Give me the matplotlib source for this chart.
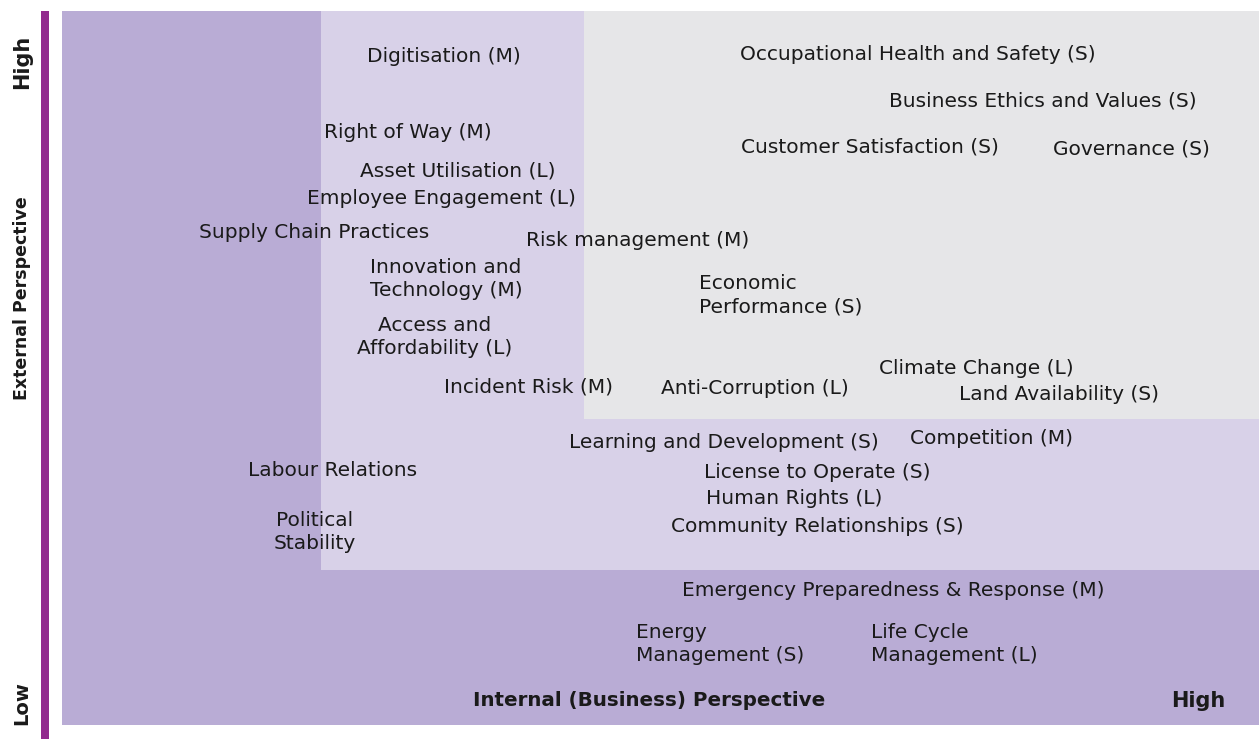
"""Materiality matrix: internal vs external perspective."""

import matplotlib.pyplot as plt
from matplotlib.patches import Rectangle

# panel coordinates (x: internal perspective, y: external perspective)
PANEL_W = 1197
PANEL_H = 714

# zone thresholds
mid_x = 259
mid_y = 155
top_x = 522
top_y = 306

labels = [
    "Digitisation (M)",
    "Occupational Health and Safety (S)",
    "Business Ethics and Values (S)",
    "Right of Way (M)",
    "Customer Satisfaction (S)",
    "Governance (S)",
    "Asset Utilisation (L)",
    "Employee Engagement (L)",
    "Supply Chain Practices",
    "Risk management (M)",
    "Innovation and\nTechnology (M)",
    "Economic\nPerformance (S)",
    "Access and\nAffordability (L)",
    "Climate Change (L)",
    "Incident Risk (M)",
    "Anti-Corruption (L)",
    "Land Availability (S)",
    "Learning and Development (S)",
    "Competition (M)",
    "Labour Relations",
    "License to Operate (S)",
    "Human Rights (L)",
    "Political\nStability",
    "Community Relationships (S)",
    "Emergency Preparedness & Response (M)",
    "Energy\nManagement (S)",
    "Life Cycle\nManagement (L)",
]
# label anchor: centre for most labels, left edge for left-aligned ones
internal = [382, 856, 981, 346, 808, 1069, 396, 379, 252, 576, 384, 637, 373,
            914, 467, 693, 997, 662, 930, 271, 755, 732, 253, 755, 831, 574, 809]
external = [668, 671, 624, 592, 578, 576, 554, 526, 492, 485, 446, 430, 388,
            357, 338, 336, 330, 283, 286, 254, 253, 226, 193, 199, 135, 81, 81]
align = ["center"] * len(labels)
align[11] = "left"
align[25] = "left"
align[26] = "left"

DARK = "#b9acd5"
MID = "#d8d1e8"
GREY = "#e6e6e8"
TEXT = "#1a1a1a"

fig = plt.figure(figsize=(12.59, 7.39), dpi=100)
ax = fig.add_axes([62 / 1259, 14 / 739, PANEL_W / 1259, PANEL_H / 739])
ax.set_xlim(0, PANEL_W)
ax.set_ylim(0, PANEL_H)
ax.axis("off")

ax.add_patch(Rectangle((0, 0), PANEL_W, PANEL_H, color=DARK, lw=0, zorder=0))
ax.add_patch(Rectangle((mid_x, mid_y), PANEL_W - mid_x, PANEL_H - mid_y, color=MID, lw=0, zorder=1))
ax.add_patch(Rectangle((top_x, top_y), PANEL_W - top_x, PANEL_H - top_y, color=GREY, lw=0, zorder=2))

for text, x, y, ha in zip(labels, internal, external, align):
    ax.text(x, y, text, ha=ha, va="center", multialignment=ha,
            fontsize=14.5, color=TEXT, linespacing=1.3, zorder=5)

# axis titles inside the panel
ax.text(587, 24, "Internal (Business) Perspective", ha="center", va="center",
        fontsize=14.3, fontweight="semibold", color=TEXT, zorder=5)
ax.text(1136, 24, "High", ha="center", va="center",
        fontsize=15, fontweight="semibold", color=TEXT, zorder=5)

# vertical axis bar and labels
fig.add_artist(Rectangle((41 / 1259, 0), 8 / 1259, 728 / 739,
                         transform=fig.transFigure, color="#922a8e", lw=0))
fig.text(22 / 1259, 1 - 62 / 739, "High", rotation=90, ha="center", va="center",
         fontsize=15, fontweight="semibold", color=TEXT)
fig.text(22 / 1259, 1 - 298 / 739, "External Perspective", rotation=90,
         ha="center", va="center", fontsize=12.5, fontweight="semibold", color=TEXT)
fig.text(22 / 1259, 1 - 703 / 739, "Low", rotation=90, ha="center", va="center",
         fontsize=14, fontweight="semibold", color=TEXT)

fig.savefig("out.png", dpi=100)
